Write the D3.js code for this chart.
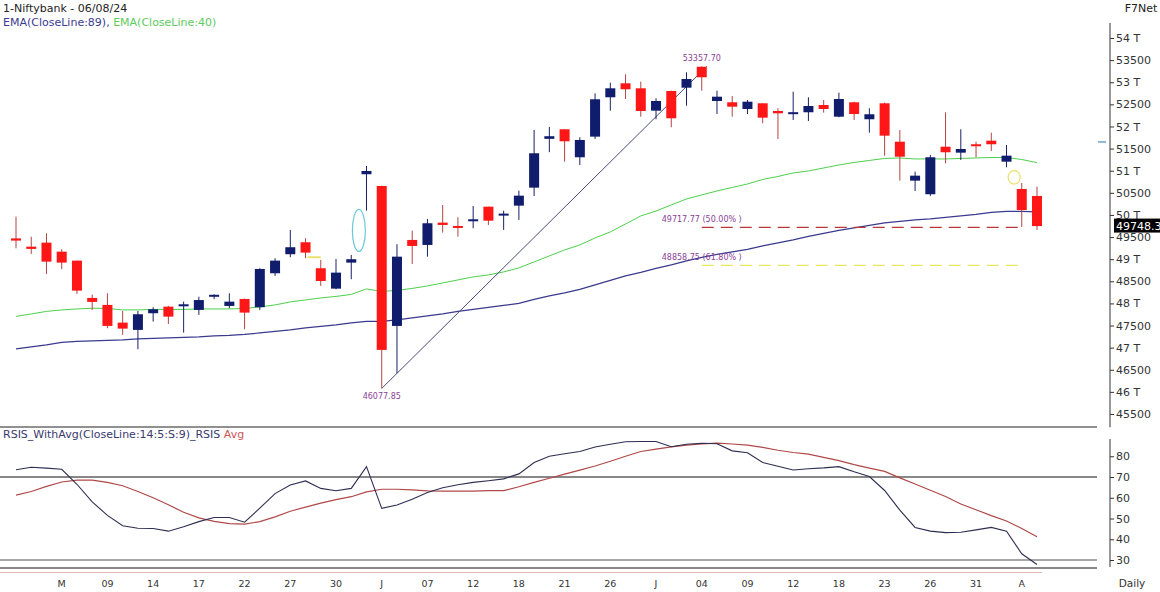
<!DOCTYPE html>
<html><head><meta charset="utf-8">
<script src="https://cdn.jsdelivr.net/npm/d3@7"></script>
<style>
body{margin:0;background:#fff;}
svg{display:block;font-family:"DejaVu Sans",Verdana,sans-serif;}
</style>
</head><body>
<svg id="chart" width="1160" height="592"></svg>
<script>
// ---------- DATA ----------
const opens  = [49470,49283,49374,49170,48967,48124,47966,47566,47401,47778,47927,47966,47853,48160,47943,48101,47914,48682,49112,49383,48795,48334,48922,50920,50655,47491,49435,49322,49826,49751,49864,50187,50010,50210,50617,51720,51937,51304,51770,52660,52976,52863,52357,52802,52877,53350,52576,52547,52395,52524,52350,52310,52321,52486,52221,52547,52163,52524,51656,50775,50468,51543,51408,51598,51679,51204,50587,50429];
const highs  = [49961,49509,49586,49225,48967,48199,48230,47830,47830,47914,47943,48040,48152,48208,48230,48108,48795,49021,49661,49473,48983,49005,49096,51107,50660,49338,49645,49909,50226,49948,50203,50187,50097,50549,51921,51990,51940,51756,52750,52990,53180,53012,52637,52810,53225,53357.7,52809,52689,52599,52530,52411,52786,52660,52599,52764,52560,52411,52540,51921,50978,51356,52321,51937,51656,51860,51582,50722,50640];
const lows   = [49247,49118,48666,48773,48214,47853,47439,47288,46965,47589,47536,47340,47740,48095,47891,47416,47853,48621,49044,49021,48395,48319,48547,50097,46077.85,46422,48892,49057,49600,49509,49699,49774,49661,49887,50429,51420,51204,51130,51717,52357,52621,52221,52163,51982,52470,52809,52282,52221,52282,52072,51717,52147,52124,52312,52208,52147,51860,51340,50775,50542,50430,51168,51243,51304,51446,51078,49728,49661];
const closes = [49420,49232,48944,48922,48289,48034,47491,47430,47755,47868,47701,47980,48076,48195,48040,47792,48779,48967,49270,49148,48507,48696,48999,50994,46949,49057,49299,49812,49774,49713,49902,49870,50030,50436,51394,51780,51665,51695,52615,52863,52841,52350,52576,52185,53073,53112,52673,52447,52560,52199,52298,52323,52463,52395,52621,52282,52276,51792,51317,50888,51304,51417,51491,51566,51598,51340,50112,49748.3];

const ema89 = [46971,47017,47062,47118,47141,47152,47164,47175,47197,47209,47220,47231,47243,47265,47277,47299,47333,47367,47401,47446,47480,47514,47559,47593,47593,47627,47672,47717,47762,47819,47864,47909,47955,48000,48090,48169,48237,48316,48418,48520,48621,48700,48791,48870,48960,49039,49107,49164,49220,49299,49367,49435,49514,49582,49650,49706,49763,49819,49853,49887,49909,49943,49977,50011,50056,50079,50079,50068];
const ema40 = [47706,47762,47819,47853,47875,47891,47887,47853,47853,47864,47864,47864,47875,47875,47875,47887,47921,47966,48034,48079,48124,48158,48203,48327,48271,48294,48339,48395,48463,48531,48599,48644,48712,48802,48938,49073,49209,49322,49480,49616,49796,49977,50090,50226,50361,50452,50542,50621,50700,50802,50870,50949,50994,51062,51130,51186,51232,51277,51288,51266,51266,51266,51277,51288,51299,51299,51254,51182];

const rsi    = [73.5,74.7,74.3,73.7,66.5,58,51.5,46.5,45.3,45.2,43.9,46,48.5,50.5,50.5,48.2,55,62,66.1,68.1,64.5,63.4,64.5,75,54.9,56.5,59.3,62.5,64.8,66.3,67.4,68.2,69.1,71.5,77,80,81.2,82.3,84.5,85.8,87,87.1,87.1,84.6,85.8,86.3,86,82.6,81.7,77,75.2,73.4,74,74.4,75,72.5,70.2,63.5,54,45.7,43.9,43.2,43.4,44.5,45.7,43.9,33,27.8];
const rsiAvg = [61.3,63,65.5,67.6,68.5,68.5,67.4,65.8,63,60,56.6,53,50.3,48.6,47.5,47.3,48.5,50.8,53.5,55.5,57.4,59.1,60.5,62.8,64.1,64.1,63.8,63.3,63.2,63.2,63.2,63.4,63.4,65.3,67.4,69.4,71.4,73.3,75.3,77.6,80,82.3,83.4,84.5,85.4,86,86.3,85.9,85.4,84.3,82.9,81.8,81,79.5,77.9,76,74.3,72.7,69.6,66.6,63.6,60.6,57,54.2,51.4,48.8,45.2,41.2];

const xTickIdx  = [3,6,9,12,15,18,21,24,27,30,33,36,39,42,45,48,51,54,57,60,63,66];
const xTickText = ["M","09","14","17","22","27","30","J","07","12","18","21","26","J","04","09","12","18","23","26","31","A"];

const priceTicks = [54000,53500,53000,52500,52000,51500,51000,50500,50000,49500,49000,48500,48000,47500,47000,46500,46000,45500];
const priceTickText = ["54 T","53500","53 T","52500","52 T","51500","51 T","50500","50 T","49500","49 T","48500","48 T","47500","47 T","46500","46 T","45500"];
const rsiTicks = [80,70,60,50,40,30];

const swingLowIdx = 24, swingLowVal = 46077.85;
const swingHighIdx = 45, swingHighVal = 53357.70;
const fibLevels = [0.5, 0.618];
const fibEndIdx = 66;
const lastClose = 49748.3;
const markerPrice = 51650;        // small blue dash on axis
const gapMark = {from:19, to:20, price:49044};
const circleMark = {idx:65.5, price:50850};
const ellipseMark = {idx:22.5, price:49650};

// ---------- SCALES ----------
const svg = d3.select("#chart");
const N = closes.length;
const x = d3.scalePoint().domain(d3.range(N)).range([16,1037]);
const xi = i => 16 + i * (1037-16)/(N-1);
const y = d3.scaleLinear().domain([45500,54000]).range([414,38]);
const r = d3.scaleLinear().domain([30,80]).range([560,456.25]);
const axisX = 1110;
const plotRight = 1097;

const RED = "#ff1717", NAVY = "#101c6c";

// ---------- HEADER ----------
svg.append("text").attr("x",3).attr("y",12).attr("font-size",11).attr("fill","#222").text("1-Niftybank - 06/08/24");
const leg = svg.append("text").attr("x",3).attr("y",26).attr("font-size",11);
leg.append("tspan").attr("fill","#3b3b90").text("EMA(CloseLine:89), ");
leg.append("tspan").attr("fill","#5ccc5c").text("EMA(CloseLine:40)");
svg.append("text").attr("x",1141).attr("y",12).attr("font-size",11).attr("fill","#222").attr("text-anchor","middle").text("F7Net");

// ---------- PRICE PANEL ----------
const lineP = d3.line().x((d,i)=>x(i)).y(d=>y(d));
svg.append("path").attr("d",lineP(ema89)).attr("fill","none").attr("stroke","#3a3a8e").attr("stroke-width",1.2);
svg.append("path").attr("d",lineP(ema40)).attr("fill","none").attr("stroke","#4cd04c").attr("stroke-width",1);

// fib lines
const range = swingHighVal - swingLowVal;
const fibColors = ["#b83838","#e6e660"];
fibLevels.forEach((f,k)=>{
  const v = swingHighVal - f*range;
  svg.append("line").attr("x1",x(swingHighIdx)).attr("x2",x(fibEndIdx)-(k?3:0))
    .attr("y1",y(v)).attr("y2",y(v)).attr("stroke",fibColors[k]).attr("stroke-width",1.2)
    .attr("stroke-dasharray","12,7");
  svg.append("text").attr("x",x(swingHighIdx)-40).attr("y",y(v)-5).attr("font-size",8)
    .attr("fill","#8a3f96").text(v.toFixed(2)+" ("+(f*100).toFixed(2)+"% )");
});

// trend line
svg.append("line").attr("x1",x(swingLowIdx)).attr("y1",y(swingLowVal))
  .attr("x2",x(swingHighIdx)+5).attr("y2",y(swingHighVal)).attr("stroke","#4a4a7e").attr("stroke-width",1);

// candles
const bw = 10;
const cg = svg.append("g");
d3.range(N).forEach(i=>{
  const up = closes[i] >= opens[i];
  const cx = x(i);
  cg.append("line").attr("x1",cx).attr("x2",cx).attr("y1",y(highs[i])).attr("y2",y(lows[i]))
    .attr("stroke", up ? "#1a2266" : "#b04545").attr("stroke-width",1);
  const top = y(Math.max(opens[i],closes[i])), bot = y(Math.min(opens[i],closes[i]));
  cg.append("rect").attr("x",cx-bw/2).attr("y",top).attr("width",bw).attr("height",Math.max(2,bot-top))
    .attr("fill", up ? NAVY : RED);
});

// annotations
svg.append("text").attr("x",x(swingLowIdx)).attr("y",y(swingLowVal)+11).attr("font-size",8)
  .attr("text-anchor","middle").attr("fill","#8a3f96").text(swingLowVal.toFixed(2));
svg.append("text").attr("x",x(swingHighIdx)).attr("y",y(swingHighVal)-5).attr("font-size",8)
  .attr("text-anchor","middle").attr("fill","#8a3f96").text(swingHighVal.toFixed(2));
svg.append("line").attr("x1",x(gapMark.from)+2).attr("x2",x(gapMark.to)).attr("y1",y(gapMark.price)).attr("y2",y(gapMark.price))
  .attr("stroke","#ece070").attr("stroke-width",2);
svg.append("ellipse").attr("cx",xi(ellipseMark.idx)).attr("cy",y(ellipseMark.price)).attr("rx",6.5).attr("ry",21)
  .attr("fill","none").attr("stroke","#6cc8d8").attr("stroke-width",1.2);
svg.append("ellipse").attr("cx",xi(circleMark.idx)).attr("cy",y(circleMark.price)).attr("rx",6).attr("ry",6.8)
  .attr("fill","none").attr("stroke","#ece070").attr("stroke-width",1.2);

// price axis
const pa = svg.append("g").attr("transform",`translate(${axisX},0)`)
  .call(d3.axisRight(y).tickValues(priceTicks).tickFormat((d,i)=>priceTickText[i]).tickSize(4).tickPadding(2));
pa.select(".domain").remove();
pa.selectAll("text").attr("font-size",11).attr("fill","#333").attr("font-family","DejaVu Sans");
pa.selectAll("line").attr("stroke","#333");
pa.append("line").attr("x1",0).attr("x2",0).attr("y1",y(54340)).attr("y2",y(45200)).attr("stroke","#333");
svg.append("line").attr("x1",axisX-12).attr("x2",axisX-4).attr("y1",y(markerPrice)).attr("y2",y(markerPrice))
  .attr("stroke","#4a8cc0").attr("stroke-width",1.2);
svg.append("rect").attr("x",axisX+4).attr("y",y(lastClose)-7.5).attr("width",50).attr("height",14).attr("fill","#000");
svg.append("text").attr("x",axisX+6).attr("y",y(lastClose)+4).attr("font-size",11).attr("fill","#fff").text(lastClose.toFixed(1));

// panel separator
svg.append("line").attr("x1",0).attr("x2",plotRight).attr("y1",427).attr("y2",427).attr("stroke","#222");

// ---------- RSI PANEL ----------
const rl = svg.append("text").attr("x",3).attr("y",438).attr("font-size",11);
rl.append("tspan").attr("fill","#3a3a6e").text("RSIS_WithAvg(CloseLine:14:5:S:9)_RSIS ");
rl.append("tspan").attr("fill","#cc5555").text("Avg");

svg.append("line").attr("x1",0).attr("x2",plotRight).attr("y1",r(70)).attr("y2",r(70)).attr("stroke","#111");
svg.append("line").attr("x1",0).attr("x2",plotRight).attr("y1",r(30)).attr("y2",r(30)).attr("stroke","#8a8a8a").attr("stroke-width",1.6);
svg.append("line").attr("x1",0).attr("x2",plotRight).attr("y1",568).attr("y2",568).attr("stroke","#111");
svg.append("line").attr("x1",0).attr("x2",x(N-1)+5).attr("y1",572.5).attr("y2",572.5).attr("stroke","#e4b4b4");

const lineR = d3.line().x((d,i)=>x(i)).y(d=>r(d));
svg.append("path").attr("d",lineR(rsiAvg)).attr("fill","none").attr("stroke","#b04848").attr("stroke-width",1.2);
svg.append("path").attr("d",lineR(rsi)).attr("fill","none").attr("stroke","#2e2e52").attr("stroke-width",1.1);

const ra = svg.append("g").attr("transform",`translate(${axisX},0)`)
  .call(d3.axisRight(r).tickValues(rsiTicks).tickSize(4).tickPadding(2));
ra.select(".domain").remove();
ra.selectAll("text").attr("font-size",11).attr("fill","#333").attr("font-family","DejaVu Sans");
ra.selectAll("line").attr("stroke","#333");
ra.append("line").attr("x1",0).attr("x2",0).attr("y1",439).attr("y2",567).attr("stroke","#333");

// x labels
svg.append("g").selectAll("text").data(xTickIdx).join("text")
  .attr("x",d=>x(d)).attr("y",587).attr("text-anchor","middle").attr("font-size",9.5).attr("fill","#333")
  .text((d,i)=>xTickText[i]);
svg.append("text").attr("x",1132).attr("y",587).attr("text-anchor","middle").attr("font-size",10.5).attr("fill","#333").text("Daily");
</script>
</body></html>
